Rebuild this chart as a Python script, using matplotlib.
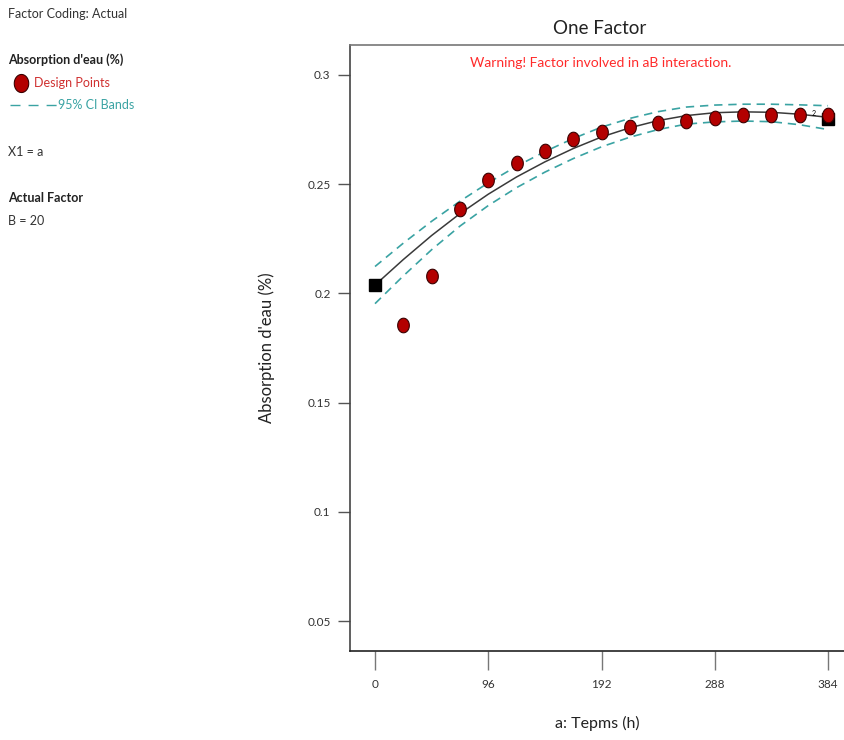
import numpy as np
import matplotlib
matplotlib.use("Agg")
import matplotlib.pyplot as plt
from matplotlib.path import Path
from matplotlib.lines import Line2D

plt.rcParams['font.family'] = ['Lato', 'DejaVu Sans']

# ---- data ----
design_x = [24, 48, 72, 96, 120, 144, 168, 192, 216, 240, 264, 288, 312, 336, 360, 384]
design_y = [0.1855, 0.2080, 0.2386, 0.2519, 0.2597, 0.2652, 0.2707, 0.2739,
            0.2762, 0.2780, 0.2789, 0.2803, 0.2817, 0.2817, 0.2817, 0.2817]
square_x = [0, 384]
square_y = [0.2038, 0.2799]
fit_x = [0, 24, 48, 72, 96, 120, 144, 168, 192, 216, 240, 264, 288, 312, 336, 360, 384]
fit_y = [0.2038, 0.2155, 0.2265, 0.2365, 0.2454, 0.2533, 0.2602, 0.2663, 0.2716,
         0.2758, 0.2791, 0.2814, 0.2827, 0.2831, 0.2829, 0.2820, 0.2806]
ci_upper = [0.2123, 0.2230, 0.2330, 0.2422, 0.2506, 0.2582, 0.2649, 0.2709, 0.2761,
            0.2801, 0.2832, 0.2853, 0.2862, 0.2866, 0.2866, 0.2863, 0.2859]
ci_lower = [0.1953, 0.2080, 0.2200, 0.2308, 0.2402, 0.2484, 0.2555, 0.2617, 0.2671,
            0.2715, 0.2750, 0.2775, 0.2785, 0.2789, 0.2786, 0.2772, 0.2750]
xticks = [0, 96, 192, 288, 384]
yticks = [0.05, 0.1, 0.15, 0.2, 0.25, 0.3]
ytick_labels = ['0.05', '0.1', '0.15', '0.2', '0.25', '0.3']

W, H = 845, 740
fig = plt.figure(figsize=(W / 100, H / 100), dpi=100)
ax = fig.add_axes([350 / W, 1 - 651 / H, 1 - 350 / W, (651 - 45) / H])
ax.set_xlim(-21.2, 398.4)
ax.set_ylim(0.0363, 0.3137)

teal = '#3aa3a3'
red_pt = '#b30000'

# ellipse marker
t = np.linspace(0, 2 * np.pi, 60)
ell = Path(np.column_stack([0.80 * np.cos(t), np.sin(t)]), closed=True)

ax.plot(fit_x, fit_y, color='#3a3a3a', lw=1.1, zorder=3)
ax.plot(fit_x, ci_upper, color=teal, lw=1.2, dashes=(5, 3.5), zorder=3)
ax.plot(fit_x, ci_lower, color=teal, lw=1.2, dashes=(5, 3.5), zorder=3)
ax.plot(square_x, square_y, linestyle='none', marker='s', markersize=8,
        color='black', zorder=4, clip_on=False)
ax.plot(design_x, design_y, linestyle='none', marker=ell, markersize=10.5,
        markerfacecolor=red_pt, markeredgecolor='#3a0000', markeredgewidth=0.8,
        zorder=5, clip_on=False)
ax.text(372, 0.2822, '2', fontsize=5, ha='center', va='center', zorder=6)

ax.set_xticks(xticks)
ax.set_xticklabels([str(v) for v in xticks])
ax.set_yticks(yticks)
ax.set_yticklabels(ytick_labels)
ax.tick_params(axis='x', direction='out', length=14, width=1, color='#777777',
               pad=6, labelsize=8.5, labelcolor='#333333')
ax.tick_params(axis='y', direction='out', length=9, width=1, color='#555555',
               pad=5, labelsize=8.5, labelcolor='#333333')

ax.spines['right'].set_visible(False)
ax.spines['top'].set_color('#777777')
ax.spines['left'].set_color('#444444')
ax.spines['bottom'].set_color('#222222')
for s in ax.spines.values():
    s.set_linewidth(1.2)

ax.set_xlabel('a: Tepms (h)', fontsize=11.5, color='#222222', labelpad=19)
ax.set_ylabel("Absorption d'eau (%)", fontsize=12, color='#222222', labelpad=23)

fig.text(600 / W, 1 - 28 / H, 'One Factor', fontsize=13.5, ha='center',
         va='center', color='#222222')
fig.text(601 / W, 1 - 63 / H, 'Warning! Factor involved in aB interaction.',
         fontsize=10, ha='center', va='center', color='#ff2a2a')

# left info panel
def ftxt(x, y, s, **kw):
    fig.text(x / W, 1 - y / H, s, va='center', ha='left', **kw)

ftxt(8, 14, 'Factor Coding: Actual', fontsize=9, color='#333333')
ftxt(8, 60, "Absorption d'eau (%)", fontsize=9, color='#222222', fontweight='bold')
fig.add_artist(Line2D([21 / W], [1 - 83 / H], marker=ell, markersize=13,
                      markerfacecolor=red_pt, markeredgecolor='#3a0000',
                      markeredgewidth=0.8, linestyle='none'))
ftxt(34, 83, 'Design Points', fontsize=9, color='#d03030')
fig.add_artist(Line2D([10 / W, 58 / W], [1 - 105 / H, 1 - 105 / H], color=teal,
                      lw=1, dashes=(7.2, 5.8)))
ftxt(58, 105, '95% CI Bands', fontsize=9, color=teal)
ftxt(8, 152, 'X1 = a', fontsize=9, color='#333333')
ftxt(8, 198, 'Actual Factor', fontsize=9, color='#222222', fontweight='bold')
ftxt(8, 221, 'B = 20', fontsize=9, color='#333333')

fig.savefig('out.png', dpi=100)
